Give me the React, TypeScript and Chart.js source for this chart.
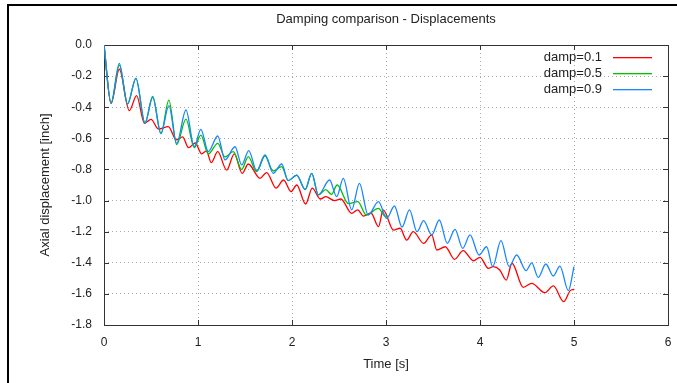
import React, { useEffect, useRef } from "react";
import { Chart, registerables } from "chart.js";

Chart.register(...registerables);

const TITLE = "Damping comparison - Displacements";
const X_TITLE = "Time [s]";
const Y_TITLE = "Axial displacement [inch]";
const X_TICKS = [0, 1, 2, 3, 4, 5, 6];
const Y_TICKS = [0, -0.2, -0.4, -0.6, -0.8, -1.0, -1.2, -1.4, -1.6, -1.8];
const SERIES_LABELS = ["damp=0.1", "damp=0.5", "damp=0.9"];
const SERIES_COLORS = ["#ff0000", "#00c000", "#1a86ff"];

// damp=0.1
const T_01 = [0, 0.075, 0.163, 0.269, 0.347, 0.43, 0.5, 0.58, 0.684, 0.77, 0.835, 0.9, 0.97, 1.04, 1.09, 1.14, 1.21, 1.305, 1.386, 1.47, 1.535, 1.66, 1.73, 1.83, 1.91, 1.99, 2.05, 2.145, 2.216, 2.3, 2.36, 2.45, 2.52, 2.635, 2.7, 2.76, 2.84, 2.92, 2.97, 3.08, 3.15, 3.22, 3.29, 3.4, 3.486, 3.54, 3.63, 3.73, 3.82, 3.93, 4.0, 4.09, 4.14, 4.21, 4.28, 4.34, 4.46, 4.55, 4.69, 4.78, 4.89, 4.96, 5.0];
const V_01 = [0, -0.375, -0.156, -0.422, -0.325, -0.503, -0.478, -0.54, -0.525, -0.61, -0.59, -0.66, -0.63, -0.7, -0.68, -0.756, -0.686, -0.804, -0.7, -0.825, -0.765, -0.857, -0.82, -0.92, -0.868, -0.943, -0.9, -1.022, -0.92, -0.99, -0.975, -1.0, -0.99, -1.082, -1.06, -1.1, -1.08, -1.168, -1.06, -1.19, -1.178, -1.254, -1.2, -1.275, -1.221, -1.318, -1.297, -1.378, -1.322, -1.387, -1.365, -1.436, -1.425, -1.446, -1.511, -1.403, -1.558, -1.532, -1.592, -1.549, -1.65, -1.579, -1.571];

// damp=0.5
const T_05 = [0, 0.075, 0.163, 0.25, 0.34, 0.436, 0.518, 0.606, 0.69, 0.773, 0.872, 0.96, 1.03, 1.11, 1.21, 1.287, 1.375, 1.465, 1.535, 1.624, 1.713, 1.8, 1.89, 1.96, 2.05, 2.14, 2.21, 2.28, 2.36, 2.42, 2.48, 2.6, 2.7, 2.79, 2.92, 2.99, 3.02];
const V_05 = [0, -0.375, -0.13, -0.38, -0.214, -0.5, -0.33, -0.57, -0.354, -0.64, -0.476, -0.66, -0.58, -0.7, -0.632, -0.72, -0.686, -0.8, -0.718, -0.814, -0.712, -0.81, -0.782, -0.872, -0.836, -0.93, -0.825, -0.964, -0.93, -0.96, -0.9, -1.02, -1.007, -1.093, -1.05, -1.1, -1.1];

// damp=0.9
const T_09 = [0, 0.075, 0.163, 0.25, 0.34, 0.436, 0.518, 0.606, 0.69, 0.773, 0.872, 0.96, 1.03, 1.11, 1.21, 1.287, 1.394, 1.465, 1.54, 1.624, 1.713, 1.8, 1.89, 1.96, 2.05, 2.14, 2.21, 2.28, 2.4, 2.475, 2.546, 2.635, 2.717, 2.81, 2.92, 3.007, 3.09, 3.17, 3.25, 3.33, 3.4, 3.486, 3.567, 3.652, 3.734, 3.816, 3.894, 3.99, 4.07, 4.135, 4.223, 4.31, 4.39, 4.49, 4.55, 4.62, 4.7, 4.78, 4.85, 4.94, 5.0];
const V_09 = [0, -0.375, -0.118, -0.38, -0.214, -0.503, -0.336, -0.568, -0.39, -0.632, -0.418, -0.654, -0.542, -0.686, -0.585, -0.739, -0.654, -0.771, -0.679, -0.808, -0.707, -0.825, -0.765, -0.872, -0.836, -0.928, -0.825, -0.964, -0.868, -0.975, -0.857, -1.06, -0.89, -1.093, -1.007, -1.114, -1.035, -1.17, -1.06, -1.2, -1.129, -1.221, -1.125, -1.275, -1.185, -1.307, -1.221, -1.35, -1.297, -1.425, -1.258, -1.425, -1.35, -1.45, -1.4, -1.494, -1.408, -1.485, -1.421, -1.579, -1.425];

const FONT = "'Liberation Sans', Arial, sans-serif";
const TEXT_COLOR = "#222";

const decorPlugin = {
  id: "decor",
  beforeDraw(chart: any) {
    const ctx = chart.ctx;
    ctx.save();
    ctx.fillStyle = "#fff";
    ctx.fillRect(0, 0, chart.width, chart.height);
    ctx.fillStyle = "#000";
    ctx.fillRect(7, 4, 2, chart.height);
    ctx.fillRect(7, 4, chart.width, 2);
    ctx.restore();
  },
  beforeDatasetsDraw(chart: any) {
    const ctx = chart.ctx;
    const a = chart.chartArea;
    const xs = chart.scales.x;
    const ys = chart.scales.y;
    ctx.save();
    ctx.strokeStyle = "#333";
    ctx.lineWidth = 1;
    ctx.setLineDash([]);
    ctx.strokeRect(Math.round(a.left) + 0.5, Math.round(a.top) + 0.5, Math.round(a.right - a.left), Math.round(a.bottom - a.top));
    ctx.beginPath();
    const L = 5;
    X_TICKS.forEach((v) => {
      const px = Math.round(xs.getPixelForValue(v)) + 0.5;
      ctx.moveTo(px, a.bottom);
      ctx.lineTo(px, a.bottom - L);
      ctx.moveTo(px, a.top);
      ctx.lineTo(px, a.top + L);
    });
    Y_TICKS.forEach((v) => {
      const py = Math.round(ys.getPixelForValue(v)) + 0.5;
      ctx.moveTo(a.left, py);
      ctx.lineTo(a.left + L, py);
      ctx.moveTo(a.right, py);
      ctx.lineTo(a.right - L, py);
    });
    ctx.stroke();
    ctx.restore();
  },
  afterDraw(chart: any) {
    const ctx = chart.ctx;
    const a = chart.chartArea;
    ctx.save();
    ctx.fillStyle = TEXT_COLOR;
    ctx.font = `13px ${FONT}`;
    ctx.textAlign = "center";
    ctx.textBaseline = "middle";
    const cx = (a.left + a.right) / 2;
    ctx.fillText(TITLE, cx, 19);
    ctx.fillText(X_TITLE, cx, 364);
    ctx.save();
    ctx.translate(45, (a.top + a.bottom) / 2);
    ctx.rotate(-Math.PI / 2);
    ctx.fillText(Y_TITLE, 0, 0);
    ctx.restore();
    ctx.textAlign = "right";
    SERIES_LABELS.forEach((lab, i) => {
      const y = 57 + i * 16;
      ctx.fillStyle = TEXT_COLOR;
      ctx.fillText(lab, 602, y);
      ctx.fillStyle = SERIES_COLORS[i];
      ctx.fillRect(613, Math.round(y), 39, 1.3);
    });
    ctx.restore();
  },
};

function makeData(T: number[], V: number[]) {
  return T.map((t, i) => ({ x: t, y: V[i] }));
}

export default function App() {
  const ref = useRef<HTMLCanvasElement | null>(null);
  useEffect(() => {
    if (!ref.current) return;
    const series = [
      [T_01, V_01],
      [T_05, V_05],
      [T_09, V_09],
    ];
    const chart = new Chart(ref.current, {
      type: "line",
      data: {
        datasets: series.map(([T, V], i) => ({
          label: SERIES_LABELS[i],
          data: makeData(T as number[], V as number[]),
          borderColor: SERIES_COLORS[i],
          backgroundColor: SERIES_COLORS[i],
          borderWidth: 1.3,
          pointRadius: 0,
          fill: false,
          cubicInterpolationMode: "monotone",
          order: 3 - i,
        })),
      },
      options: {
        animation: false,
        responsive: false,
        devicePixelRatio: 1,
        layout: { padding: { left: 0, top: 45, right: 9, bottom: 0 } },
        plugins: {
          legend: { display: false },
          title: { display: false },
          tooltip: { enabled: false },
        },
        scales: {
          x: {
            type: "linear",
            min: 0,
            max: 6,
            afterBuildTicks: (s: any) => {
              s.ticks = X_TICKS.map((v) => ({ value: v }));
            },
            afterFit: (s: any) => {
              s.height = 58;
              s.paddingLeft = 0;
              s.paddingRight = 0;
            },
            grid: { color: "#aaa", lineWidth: 1, drawTicks: false },
            border: { display: false, dash: [1, 3] },
            ticks: {
              padding: 10,
              color: TEXT_COLOR,
              font: { family: FONT, size: 12 },
              maxRotation: 0,
              callback: (v: any) => String(v),
            },
          },
          y: {
            type: "linear",
            min: -1.8,
            max: 0,
            afterBuildTicks: (s: any) => {
              s.ticks = Y_TICKS.map((v) => ({ value: v }));
            },
            afterFit: (s: any) => {
              s.width = 104;
              s.paddingTop = 0;
              s.paddingBottom = 0;
            },
            grid: { color: "#aaa", lineWidth: 1, drawTicks: false },
            border: { display: false, dash: [1, 3] },
            ticks: {
              padding: 12,
              color: TEXT_COLOR,
              font: { family: FONT, size: 12 },
              callback: (v: any) => Number(v).toFixed(1),
            },
          },
        },
      } as any,
      plugins: [decorPlugin],
    });
    return () => chart.destroy();
  }, []);
  return (
    <canvas
      ref={ref}
      width={677}
      height={383}
      style={{ position: "fixed", left: 0, top: 0, width: 677, height: 383 }}
    />
  );
}
